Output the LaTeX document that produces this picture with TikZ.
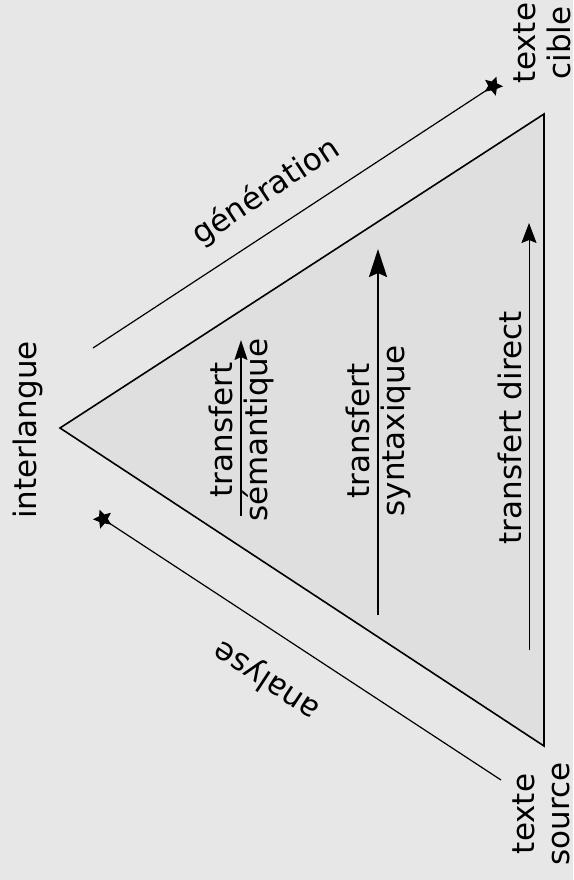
\documentclass[tikz,border=0pt]{standalone}
\usepackage{fontspec}
\setmainfont{DejaVu Sans}
\usetikzlibrary{shapes.geometric,arrows.meta}
\definecolor{bg}{RGB}{231,231,231}
\definecolor{tri}{RGB}{223,223,223}
\begin{document}
\begin{tikzpicture}[x=1pt,y=-1pt,
  lbl/.style={inner sep=0pt, font=\fontsize{31}{35}\selectfont, align=center},
  side/.style={line width=1.2pt},
  starmark/.style={star, star points=5, star point ratio=2.1, fill=black, inner sep=0pt, minimum size=20pt},
  semarrow/.style={line width=1.5pt, -{Stealth[length=20pt,width=13pt,inset=3pt]}},
  synarrow/.style={line width=2.4pt, -{Stealth[length=28pt,width=18pt,inset=4pt]}},
  dirarrow/.style={line width=1pt, -{Stealth[length=20pt,width=15pt,inset=3pt]}}]
\fill[bg] (0,0) rectangle (573,880);
\useasboundingbox (0,0) rectangle (573,880);
% triangle
\coordinate (apex) at (60,428);
\coordinate (tr) at (544,114);
\coordinate (br) at (544,746);
\filldraw[fill=tri, line width=1.6pt, line join=miter] (apex) -- (tr) -- (br) -- cycle;
% generation
\coordinate (g0) at (93,348);
\node[starmark, rotate=-20] (gs) at (493,86) {};
\draw[side] (g0) -- (gs.center);
% analyse
\node[starmark, rotate=20] (as) at (103,519) {};
\coordinate (a1) at (501,780);
\draw[side] (as.center) -- (a1);
% transfer arrows
\coordinate (s0) at (241,516);
\coordinate (s1) at (241,340);
\draw[semarrow] (s0) -- (s1);
\coordinate (y0) at (378,615);
\coordinate (y1) at (378,249);
\draw[synarrow] (y0) -- (y1);
\coordinate (d0) at (529,650);
\coordinate (d1) at (529,223);
\draw[dirarrow] (d0) -- (d1);
% labels
\node[lbl, rotate=90] (il) at (28,430) {interlangue};
\node[lbl, rotate=90] (sem) at (241,430) {transfert\\sémantique};
\node[lbl, rotate=90] (syn) at (378,431) {transfert\\syntaxique};
\node[lbl, rotate=90] (dir) at (510,428) {transfert direct};
\node[lbl, rotate=90] (tc) at (542,43) {texte\\cible};
\node[lbl, rotate=90] (ts) at (541,814) {texte\\source};
\node[lbl, rotate=33.3] (gen) at (266,192) {génération};
\node[lbl, rotate=146.7] (ana) at (267,680) {analyse};
\end{tikzpicture}
\end{document}
